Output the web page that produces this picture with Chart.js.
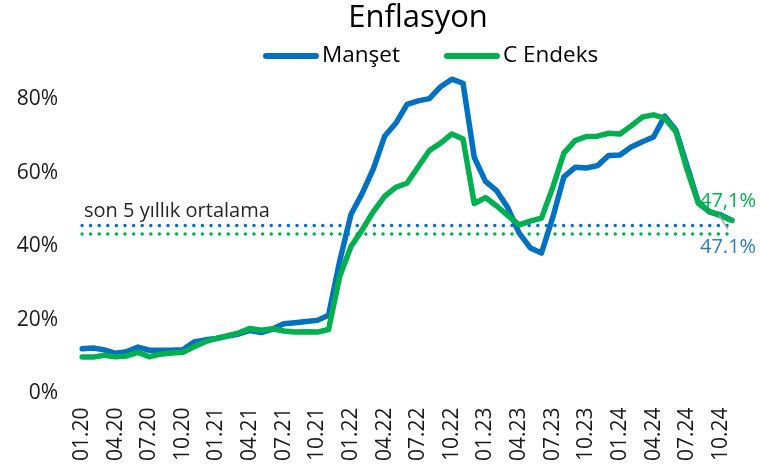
<!DOCTYPE html>
<html lang="tr">
<head>
<meta charset="utf-8">
<title>Enflasyon</title>
<script src="https://cdn.jsdelivr.net/npm/chart.js@4.4.1/dist/chart.umd.min.js"></script>
<style>
  html, body { margin: 0; padding: 0; background: #fff; }
  #wrap { width: 760px; height: 473px; }
</style>
</head>
<body>
<div id="wrap"><canvas id="inflationChart" width="760" height="473"></canvas></div>
<script>
// --- 1. Data ---
const months = [
    '01.20', '02.20', '03.20', '04.20', '05.20', '06.20', '07.20', '08.20', '09.20', '10.20', '11.20', '12.20',
    '01.21', '02.21', '03.21', '04.21', '05.21', '06.21', '07.21', '08.21', '09.21', '10.21', '11.21', '12.21',
    '01.22', '02.22', '03.22', '04.22', '05.22', '06.22', '07.22', '08.22', '09.22', '10.22', '11.22', '12.22',
    '01.23', '02.23', '03.23', '04.23', '05.23', '06.23', '07.23', '08.23', '09.23', '10.23', '11.23', '12.23',
    '01.24', '02.24', '03.24', '04.24', '05.24', '06.24', '07.24', '08.24', '09.24', '10.24', '11.24'
];

// Manşet (headline) annual inflation, %
const manset = [
    12.15, 12.37, 11.86, 10.94, 11.39, 12.62, 11.76, 11.77, 11.75, 11.89, 14.03, 14.60,
    14.97, 15.61, 16.19, 17.14, 16.59, 17.53, 18.95, 19.25, 19.58, 19.89, 21.31, 36.08,
    48.69, 54.44, 61.14, 69.97, 73.50, 78.62, 79.60, 80.21, 83.45, 85.51, 84.39, 64.27,
    57.68, 55.18, 50.51, 43.68, 39.59, 38.21, 47.83, 58.94, 61.53, 61.36, 61.98, 64.77,
    64.86, 67.07, 68.50, 69.80, 75.45, 71.60, 61.78, 51.97, 49.38, 48.58, 47.09
];

// C Endeks (core) annual inflation, %
const cEndeks = [
    9.9, 9.9, 10.4, 10.0, 10.2, 11.2, 10.0, 10.7, 11.0, 11.2, 12.7, 14.1,
    15.0, 15.7, 16.5, 17.7, 17.2, 17.6, 17.0, 16.7, 16.8, 16.7, 17.4, 31.9,
    40.0, 44.5, 49.5, 53.6, 56.1, 57.2, 61.7, 66.1, 68.1, 70.6, 69.2, 51.7,
    53.3, 51.0, 48.4, 45.9, 46.9, 47.7, 56.0, 65.4, 68.8, 69.9, 70.0, 70.8,
    70.6, 72.8, 75.2, 75.8, 74.9, 71.2, 60.8, 51.7, 49.5, 48.3, 47.1
];

// last 5 year averages
const mansetAvg = 45.7;
const cEndeksAvg = 43.4;

const yTicks = [0, 20, 40, 60, 80];
const avgCaption = 'son 5 yıllık ortalama';
const lastLabelManset = '47.1%';
const lastLabelC = '47,1%';

// --- 2. Styling ---
const BLUE = '#0070C0';
const GREEN = '#00B050';
const FONT = '"Open Sans", "Noto Sans", sans-serif';

Chart.defaults.font.family = FONT;
Chart.defaults.color = '#1a1a1a';

// --- 3. Plugins: header (title + legend) and annotations ---
const headerPlugin = {
    id: 'header',
    afterDraw(chart) {
        const { ctx } = chart;
        ctx.save();
        ctx.fillStyle = '#000';
        ctx.font = `31px ${FONT}`;
        ctx.textAlign = 'center';
        ctx.textBaseline = 'middle';
        ctx.fillText('Enflasyon', 418, 18);

        // legend: thick line swatch + label
        ctx.font = `22.5px ${FONT}`;
        ctx.textAlign = 'left';
        let x = 266;
        const y = 56;
        chart.data.datasets.filter(d => d.inLegend).forEach(d => {
            ctx.strokeStyle = d.borderColor;
            ctx.lineWidth = 6;
            ctx.lineCap = 'round';
            ctx.beginPath();
            ctx.moveTo(x, y);
            ctx.lineTo(x + 50, y);
            ctx.stroke();
            ctx.fillStyle = '#000';
            ctx.fillText(d.label, x + 56, y);
            x += 56 + ctx.measureText(d.label).width + 47;
        });
        ctx.restore();
    }
};

const annotationPlugin = {
    id: 'annotations',
    afterDatasetsDraw(chart) {
        const { ctx, chartArea, scales: { x, y } } = chart;
        const last = months.length - 1;
        const px = x.getPixelForValue(last);
        const pyM = y.getPixelForValue(manset[last]);
        const pyC = y.getPixelForValue(cEndeks[last]);

        ctx.save();
        // small leader line
        ctx.strokeStyle = '#a6a6a6';
        ctx.lineWidth = 1.5;
        ctx.beginPath();
        ctx.moveTo(px - 13, pyM - 5);
        ctx.lineTo(px - 4, pyM + 9);
        ctx.stroke();

        ctx.font = `20px ${FONT}`;
        ctx.textAlign = 'left';
        ctx.textBaseline = 'middle';
        ctx.fillStyle = GREEN;
        ctx.fillText(lastLabelC, px - 32, pyC - 19);
        ctx.fillStyle = '#2E7BC4';
        ctx.fillText(lastLabelManset, px - 32, pyM + 27);

        ctx.fillStyle = '#262626';
        ctx.fillText(avgCaption, chartArea.left + 2, y.getPixelForValue(mansetAvg) - 14);
        ctx.restore();
    }
};

// --- 4. Chart ---
const ctx = document.getElementById('inflationChart').getContext('2d');

new Chart(ctx, {
    type: 'line',
    data: {
        labels: months,
        datasets: [
            {
                label: 'Manşet',
                inLegend: true,
                data: manset,
                borderColor: BLUE,
                borderWidth: 5.5,
                pointRadius: 0,
                borderJoinStyle: 'round',
                borderCapStyle: 'round',
                tension: 0,
                order: 1
            },
            {
                label: 'C Endeks',
                inLegend: true,
                data: cEndeks,
                borderColor: GREEN,
                borderWidth: 5.5,
                pointRadius: 0,
                borderJoinStyle: 'round',
                borderCapStyle: 'round',
                tension: 0,
                order: 0
            },
            {
                label: 'Manşet ortalama',
                data: months.map(() => mansetAvg),
                borderColor: BLUE,
                borderWidth: 3.5,
                borderDash: [0, 8.6],
                borderCapStyle: 'round',
                pointRadius: 0,
                order: 3
            },
            {
                label: 'C Endeks ortalama',
                data: months.map(() => cEndeksAvg),
                borderColor: GREEN,
                borderWidth: 3.5,
                borderDash: [0, 8.6],
                borderCapStyle: 'round',
                pointRadius: 0,
                order: 2
            }
        ]
    },
    options: {
        responsive: false,
        animation: false,
        layout: { padding: { top: 70, right: 28, left: 0, bottom: 0 } },
        plugins: {
            legend: { display: false },
            title: { display: false },
            tooltip: { enabled: false }
        },
        scales: {
            x: {
                type: 'category',
                offset: false,
                grid: { display: false, drawTicks: false },
                border: { display: false },
                ticks: {
                    autoSkip: false,
                    maxRotation: 90,
                    minRotation: 90,
                    padding: 14,
                    font: { size: 21 },
                    callback: (val, i) => (i % 3 === 0 ? months[i] : '')
                },
                afterFit: (scale) => {
                    scale.height = 79.5;
                    scale.paddingLeft = 0;
                    scale.paddingRight = 0;
                }
            },
            y: {
                min: 0,
                max: 88,
                grid: { display: false, drawTicks: false },
                border: { display: false },
                afterBuildTicks: (scale) => { scale.ticks = yTicks.map(v => ({ value: v })); },
                ticks: {
                    padding: 24,
                    font: { size: 21 },
                    callback: (value) => value + '%'
                },
                afterFit: (scale) => { scale.width = 82; }
            }
        }
    },
    plugins: [headerPlugin, annotationPlugin]
});
</script>
</body>
</html>
